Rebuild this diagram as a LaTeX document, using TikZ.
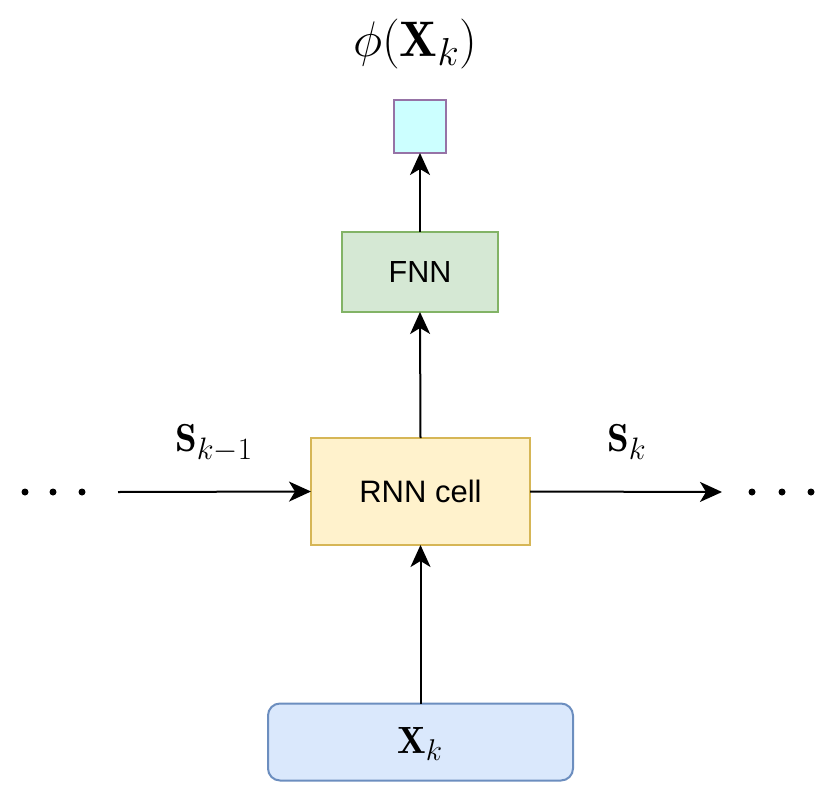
\RequirePackage{fix-cm}
\documentclass[tikz,border=0pt]{standalone}
\usepackage{fontspec}
\newfontfamily\hv{Liberation Sans}
\usetikzlibrary{arrows.meta}
\DeclareMathSizes{39}{39}{31}{24}
\DeclareMathSizes{50}{50}{39}{30}
\DeclareMathSizes{38}{38}{30}{23}
\definecolor{sqfill}{HTML}{CCFFFF}
\definecolor{sqdraw}{HTML}{9673A6}
\definecolor{gfill}{HTML}{D5E8D4}
\definecolor{gdraw}{HTML}{82B366}
\definecolor{yfill}{HTML}{FFF2CC}
\definecolor{ydraw}{HTML}{D6B656}
\definecolor{bfill}{HTML}{DAE8FC}
\definecolor{bdraw}{HTML}{6C8EBF}
\tikzset{
  box/.style={draw, line width=2pt, inner sep=0pt, outer sep=0pt},
  conn/.style={line width=2pt, -{Stealth[length=22pt,width=20pt,inset=6pt]}},
  dotn/.style={circle, fill=black, inner sep=0pt, minimum size=7pt},
  lbl/.style={inner sep=0pt, anchor=base west}
}
\begin{document}
\begin{tikzpicture}[x=1pt,y=-1pt]
\useasboundingbox (0,0) rectangle (830,803);
\node[box, draw=sqdraw, fill=sqfill, minimum width=52pt, minimum height=53pt] (out) at (420,126.5) {};
\node[box, draw=gdraw, fill=gfill, minimum width=156pt, minimum height=80pt] (fnn) at (420,272) {\hv\fontsize{30.5}{36}\selectfont FNN};
\node[box, draw=ydraw, fill=yfill, minimum width=219pt, minimum height=107pt] (rnn) at (420.5,491.5) {\hv\fontsize{31}{36}\selectfont RNN cell};
\node[box, draw=bdraw, fill=bfill, rounded corners=12pt, minimum width=305pt, minimum height=77pt] (xk) at (420.5,742) {};
\node[lbl] (xkl) at (397,753) {\fontsize{38}{46}\selectfont $\mathbf{X}_k$};
\node[lbl] (phi) at (353,56) {\fontsize{50}{60}\selectfont $\phi(\mathbf{X}_k)$};
\node[lbl] (skm) at (175,451) {\fontsize{39}{46}\selectfont $\mathbf{S}_{k-1}$};
\node[lbl] (sk) at (607,451) {\fontsize{39}{46}\selectfont $\mathbf{S}_{k}$};
\node[dotn] (l1) at (25,492) {};
\node[dotn] (l2) at (53,492) {};
\node[dotn] (l3) at (82,492) {};
\node[dotn] (r1) at (752,492) {};
\node[dotn] (r2) at (782,492) {};
\node[dotn] (r3) at (811,492) {};
\coordinate (ls) at (118,492);
\coordinate (re) at (722,492);
\draw[conn] (xk.north) -- (rnn.south);
\draw[conn] (rnn.north) -- (fnn.south);
\draw[conn] (fnn.north) -- (out.south);
\draw[conn] (ls) -- (rnn.west);
\draw[conn] (rnn.east) -- (re);
\end{tikzpicture}
\end{document}
